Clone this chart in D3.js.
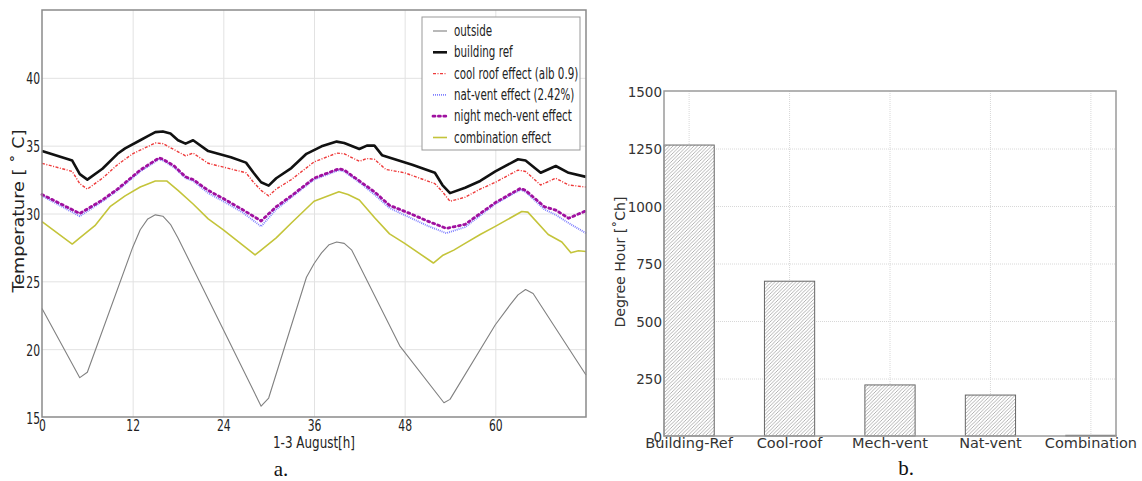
<!DOCTYPE html>
<head>
    <meta charset="utf-8">
    <title>Temperature and degree hours</title>
    <style>
        body { margin: 0; background: #fff; }
    </style>
</head>

<!-- Load d3.js -->
<script src="https://d3js.org/d3.v7.min.js"></script>

<div id="my_dataviz"></div>

<script>

    // ---- data ----
    // hourly temperatures, [hour, degC] at the points where each line bends
    var outside = [[0,23.0],[5,17.9],[6,18.3],[12,27.5],[13,28.8],[14,29.6],[15,29.9],[16,29.8],[17,29.2],[18,28.2],
        [29,15.8],[30,16.4],[35,25.3],[36,26.3],[37,27.1],[38,27.7],[39,27.9],[40,27.8],[41,27.3],[47.4,20.2],
        [53.2,16.05],[54,16.3],[60,21.8],[62,23.3],[63,24.0],[64,24.4],[65,24.1],[72,18.1]]

    var buildingRef = [[0,34.6],[4,33.9],[5,32.9],[6,32.5],[8,33.3],[10,34.4],[11,34.8],[13,35.4],[14,35.7],[15,36.0],
        [16,36.05],[17,35.9],[18,35.4],[19,35.15],[20,35.4],[22,34.6],[25,34.15],[27,33.75],[28,33.0],[29,32.3],
        [30,32.05],[31,32.6],[33,33.35],[35,34.4],[37,34.95],[39,35.3],[40,35.2],[42,34.75],[43,35.0],[44,35.0],
        [45,34.3],[47,33.95],[49,33.6],[52,33.0],[53,32.1],[54,31.5],[56,31.9],[58,32.4],[60,33.1],[63,34.0],
        [64,33.9],[66,33.0],[68,33.5],[69.7,33.0],[72,32.7]]

    var coolRoof = [[0,33.7],[4,33.1],[5,32.2],[6,31.8],[8,32.6],[10,33.6],[12,34.4],[15,35.2],[16,35.15],[17.5,34.7],
        [19,34.25],[20,34.45],[22,33.7],[27,33.0],[28,32.3],[29,31.7],[30,31.3],[31,31.8],[33,32.5],[36,33.8],
        [39,34.45],[40,34.4],[42,33.85],[43,34.05],[44,34.0],[45.5,33.25],[48,33.0],[50,32.6],[52,32.2],[53,31.6],
        [54,30.9],[56,31.2],[58,31.8],[60,32.3],[63,33.2],[64,33.1],[66,32.1],[68,32.6],[69.7,32.1],[72,31.95]]

    var natVent = [[0,31.3],[5,29.8],[8,30.9],[10,31.7],[13,33.1],[15.5,34.0],[16,33.9],[17.5,33.4],[19,32.6],[20,32.4],
        [22,31.5],[24,30.9],[26.5,30.1],[29,29.05],[31,30.3],[33,31.2],[36,32.5],[39.3,33.2],[40,33.1],[42,32.3],
        [44,31.4],[46,30.4],[48.7,29.7],[51,29.1],[53.5,28.55],[56,29.0],[60,30.7],[63.3,31.75],[64,31.6],[66.5,30.3],
        [68,29.9],[69.7,29.3],[72,28.55]]

    var mechVent = [[0,31.4],[5,30.0],[8,31.0],[10,31.8],[13,33.2],[15.5,34.1],[16,34.0],[17.5,33.5],[19,32.7],[20,32.5],
        [22,31.7],[24,31.1],[26.5,30.3],[29,29.45],[31,30.5],[33,31.3],[36,32.6],[39.3,33.3],[40,33.2],[42,32.4],
        [44,31.6],[46,30.6],[48.7,30.0],[51,29.45],[53.5,28.9],[56,29.2],[60,30.8],[63.3,31.85],[64,31.7],[66.5,30.5],
        [68,30.25],[69.7,29.65],[72,30.2]]

    var combination = [[0,29.4],[4,27.75],[5,28.2],[7,29.1],[9,30.5],[11,31.3],[13,31.95],[15,32.4],[16.5,32.4],[18,31.7],
        [20,30.7],[22,29.6],[24,28.8],[28.2,26.95],[29,27.3],[31,28.2],[33,29.3],[36,30.9],[39.3,31.6],[40.5,31.4],
        [42,31.0],[44,29.7],[46,28.5],[48,27.8],[51.8,26.35],[53,26.9],[54.5,27.3],[56,27.8],[58,28.45],[60,29.05],
        [63.5,30.15],[64.3,30.1],[67,28.45],[68.8,27.9],[70,27.1],[71,27.25],[72,27.2]]

    var seriesNames = ["outside", "building ref", "cool roof effect (alb 0.9)", "nat-vent effect (2.42%)",
        "night mech-vent effect", "combination effect"]
    var hourTicks = [0, 12, 24, 36, 48, 60]
    var tempTicks = [15, 20, 25, 30, 35, 40]

    // degree hours per case
    var cases = ["Building-Ref", "Cool-roof", "Mech-vent", "Nat-vent", "Combination"]
    var degreeHours = [1265, 673, 222, 178, 3]
    var dhTicks = [0, 250, 500, 750, 1000, 1250, 1500]

    // the left panel of the reference is squeezed sideways, so squeeze its texts too
    function squish(sel, k) {
        sel.each(function() {
            var n = this.getComputedTextLength()
            d3.select(this).attr("textLength", n * k).attr("lengthAdjust", "spacingAndGlyphs")
        })
    }
    var condensed = "'DejaVu Sans Condensed', 'DejaVu Sans', sans-serif"

    // ---- svg ----
    var svg = d3.select("#my_dataviz")
      .append("svg")
      .attr("width", 1142)
      .attr("height", 481)
      .style("font-family", "'DejaVu Sans', sans-serif")

    // ================= left: temperatures =================
    var pa = {left: 42, top: 10, right: 586, bottom: 417}

    var x = d3.scaleLinear().domain([0, 72]).range([pa.left, pa.right])
    var y = d3.scaleLinear().domain([15, 45]).range([pa.bottom, pa.top])

    var left = svg.append("g")

    // grid
    left.append("g")
      .attr("transform", "translate(0," + pa.bottom + ")")
      .call(d3.axisBottom(x).tickValues(hourTicks.slice(1)).tickSize(-(pa.bottom - pa.top)).tickFormat(""))
      .call(function(g) { g.select(".domain").remove() })
    left.append("g")
      .attr("transform", "translate(" + pa.left + ",0)")
      .call(d3.axisLeft(y).tickValues(tempTicks.slice(1)).tickSize(-(pa.right - pa.left)).tickFormat(""))
      .call(function(g) { g.select(".domain").remove() })
    left.selectAll(".tick line").attr("stroke", "#e2e2e2").attr("stroke-width", 1)

    // series styles
    var styles = [
        {color: "#808080", width: 1.1, dash: null},
        {color: "#111111", width: 2.6, dash: null},
        {color: "#ee3a3a", width: 1.4, dash: "3,1.5,1,1.5"},
        {color: "#8080ff", width: 1.9, dash: "1,1"},
        {color: "#a010a0", width: 2.8, dash: "2,3.4"},
        {color: "#c4c43a", width: 1.6, dash: null}
    ]
    var allSeries = [outside, buildingRef, coolRoof, natVent, mechVent, combination]

    var line = d3.line()
      .x(function(d) { return x(d[0]) })
      .y(function(d) { return y(d[1]) })

    allSeries.forEach(function(s, i) {
        left.append("path")
          .datum(s)
          .attr("fill", "none")
          .attr("stroke", styles[i].color)
          .attr("stroke-width", styles[i].width)
          .attr("stroke-dasharray", styles[i].dash)
          .attr("stroke-linejoin", "round")
          .attr("stroke-linecap", i == 4 ? "round" : "butt")
          .attr("d", line)
    })

    // frame
    left.append("rect")
      .attr("x", pa.left).attr("y", pa.top)
      .attr("width", pa.right - pa.left).attr("height", pa.bottom - pa.top)
      .attr("fill", "none").attr("stroke", "#8a8a8a").attr("stroke-width", 1.5)

    // tick labels
    var xAx = left.append("g")
      .attr("transform", "translate(0," + pa.bottom + ")")
      .call(d3.axisBottom(x).tickValues(hourTicks).tickSize(0).tickPadding(3))
    var yAx = left.append("g")
      .attr("transform", "translate(" + pa.left + ",0)")
      .call(d3.axisLeft(y).tickValues(tempTicks).tickSize(0).tickPadding(2))
    ;[xAx, yAx].forEach(function(g) {
        g.select(".domain").remove()
        g.selectAll("text")
          .style("font-family", condensed)
          .style("font-size", "15px")
          .attr("fill", "#222")
          .call(squish, 0.8)
    })
    yAx.selectAll("text").attr("dy", "0.4em")

    left.append("text")
      .attr("text-anchor", "middle")
      .attr("x", 314).attr("y", 448)
      .style("font-family", condensed)
      .style("font-size", "15px").attr("fill", "#222")
      .attr("textLength", 82).attr("lengthAdjust", "spacingAndGlyphs")
      .text("1-3 August[h]")

    left.append("text")
      .attr("text-anchor", "middle")
      .attr("transform", "translate(24,211) rotate(-90)")
      .style("font-family", "'DejaVu Sans', sans-serif")
      .style("font-size", "15px").attr("fill", "#222")
      .attr("textLength", 163).attr("lengthAdjust", "spacingAndGlyphs")
      .text("Temperature [ ˚ C]")

    // legend
    var lg = left.append("g")
    lg.append("rect")
      .attr("x", 422).attr("y", 17).attr("width", 158).attr("height", 133)
      .attr("fill", "#fff").attr("stroke", "#999").attr("stroke-width", 1)
    seriesNames.forEach(function(name, i) {
        var ly = 31 + i * 21.3
        lg.append("line")
          .attr("x1", 433).attr("x2", 447).attr("y1", ly).attr("y2", ly)
          .attr("stroke", styles[i].color)
          .attr("stroke-width", styles[i].width)
          .attr("stroke-dasharray", styles[i].dash)
          .attr("stroke-linecap", i == 4 ? "round" : "butt")
        lg.append("text")
          .attr("x", 454).attr("y", ly + 5)
          .style("font-family", condensed)
          .style("font-size", "15px").attr("fill", "#222")
          .text(name)
          .call(squish, 0.765)
    })

    svg.append("text")
      .attr("text-anchor", "middle")
      .attr("x", 281).attr("y", 476)
      .style("font-family", "'Liberation Serif', serif")
      .style("font-size", "21px").attr("fill", "#111")
      .text("a.")

    // ================= right: degree hours =================
    var pb = {left: 664, top: 91, right: 1116, bottom: 436}

    var xb = d3.scaleBand().domain(cases).range([pb.left, pb.right]).paddingInner(0.5).paddingOuter(0)
    var yb = d3.scaleLinear().domain([0, 1500]).range([pb.bottom, pb.top])

    var right = svg.append("g")

    var defs = svg.append("defs")
    defs.append("pattern")
      .attr("id", "hatch")
      .attr("patternUnits", "userSpaceOnUse")
      .attr("width", 3.5).attr("height", 3.5)
      .call(function(p) {
          p.append("rect").attr("width", 3.5).attr("height", 3.5).attr("fill", "#fff")
          p.append("path")
            .attr("d", "M-1,1 l2,-2 M0,3.5 l3.5,-3.5 M2.5,4.5 l2,-2")
            .attr("stroke", "#999").attr("stroke-width", 0.75)
      })

    // grid
    right.append("g")
      .attr("transform", "translate(" + pb.left + ",0)")
      .call(d3.axisLeft(yb).tickValues(dhTicks.slice(1, -1)).tickSize(-(pb.right - pb.left)).tickFormat(""))
      .call(function(g) { g.select(".domain").remove() })
    right.append("g")
      .attr("transform", "translate(0," + pb.bottom + ")")
      .call(d3.axisBottom(xb).tickSize(-(pb.bottom - pb.top)).tickFormat(""))
      .call(function(g) { g.select(".domain").remove() })
    right.selectAll(".tick line")
      .attr("stroke", "#d8d8d8").attr("stroke-width", 1).attr("stroke-dasharray", "1,1")

    // bars
    right.append("g")
      .selectAll("rect")
      .data(degreeHours)
      .enter()
      .append("rect")
        .attr("x", function(d, i) { return xb(cases[i]) })
        .attr("y", function(d) { return yb(d) })
        .attr("width", xb.bandwidth())
        .attr("height", function(d) { return yb(0) - yb(d) })
        .attr("fill", "url(#hatch)")
        .attr("stroke", "#666")
        .attr("stroke-width", 1)

    right.append("rect")
      .attr("x", pb.left).attr("y", pb.top)
      .attr("width", pb.right - pb.left).attr("height", pb.bottom - pb.top)
      .attr("fill", "none").attr("stroke", "#9a9a9a").attr("stroke-width", 1.5)

    var xbAx = right.append("g")
      .attr("transform", "translate(0," + pb.bottom + ")")
      .call(d3.axisBottom(xb).tickSize(0).tickPadding(2))
    var ybAx = right.append("g")
      .attr("transform", "translate(" + pb.left + ",0)")
      .call(d3.axisLeft(yb).tickValues(dhTicks).tickFormat(d3.format("d")).tickSize(0).tickPadding(2))
    ;[xbAx, ybAx].forEach(function(g) {
        g.select(".domain").remove()
        g.selectAll("text")
          .style("font-family", "'DejaVu Sans', sans-serif")
          .attr("fill", "#333")
    })
    xbAx.selectAll("text").style("font-size", "14.5px")
    ybAx.selectAll("text").style("font-size", "13.5px").attr("dy", "0.4em")

    right.append("text")
      .attr("text-anchor", "middle")
      .attr("transform", "translate(625,262) rotate(-90)")
      .style("font-size", "14px").attr("fill", "#333")
      .attr("textLength", 131).attr("lengthAdjust", "spacingAndGlyphs")
      .text("Degree Hour [˚Ch]")

    svg.append("text")
      .attr("text-anchor", "middle")
      .attr("x", 906).attr("y", 475)
      .style("font-family", "'Liberation Serif', serif")
      .style("font-size", "21px").attr("fill", "#111")
      .text("b.")

</script>
